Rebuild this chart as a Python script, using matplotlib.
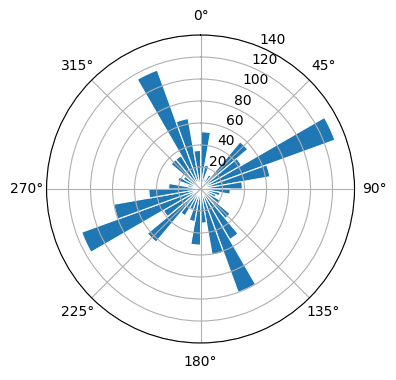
import numpy as np
import matplotlib
matplotlib.use("Agg")
import matplotlib.pyplot as plt

# direction bins (deg, left edge, clockwise from north) and counts
bin_edges_deg = list(range(0, 360, 10))
counts = [52, 22, 10, 15, 56, 43, 130, 64, 38,
          27, 18, 15, 21, 35, 53, 100, 61, 31,
          51, 30, 20, 28, 63, 39, 115, 80, 47,
          29, 12, 22, 18, 35, 35, 115, 65, 35]
r_ticks = [20, 40, 60, 80, 100, 120, 140]

fig = plt.figure(figsize=(3.96, 3.8), dpi=100)
ax = fig.add_axes([0.1174, 0.0974, 0.778, 0.8105], projection="polar")
ax.set_theta_zero_location("N")
ax.set_theta_direction(-1)

theta = np.deg2rad(bin_edges_deg)
ax.bar(theta, counts, width=np.deg2rad(10), align="edge",
       color="#1f77b4", edgecolor="white", linewidth=0.8)

ax.set_ylim(0, 140)
ax.set_yticks(r_ticks)
ax.set_rlabel_position(22.5)
ax.grid(True)

fig.savefig("out.png", dpi=100)
